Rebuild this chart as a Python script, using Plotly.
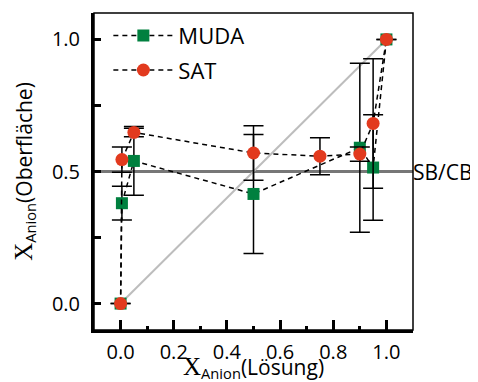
import plotly.graph_objects as go

# --- data ---
x_muda = [0.0, 0.005, 0.05, 0.5, 0.9, 0.95, 1.0]
y_muda = [0.0, 0.38, 0.54, 0.415, 0.59, 0.515, 1.0]
err_muda = [0.0, 0.064, 0.13, 0.225, 0.32, 0.2, 0.0]

x_sat = [0.0, 0.005, 0.05, 0.5, 0.75, 0.9, 0.95, 1.0]
y_sat = [0.0, 0.545, 0.648, 0.57, 0.558, 0.566, 0.682, 1.0]
err_sat = [0.0, 0.048, 0.016, 0.103, 0.07, 0.027, 0.245, 0.0]

diag_x = [0.0, 1.0]
diag_y = [0.0, 1.0]
sbcb_level = 0.5

x_ticks = [0.0, 0.2, 0.4, 0.6, 0.8, 1.0]
y_ticks = [0.0, 0.5, 1.0]

FONT = "Open Sans"
GREEN = "#00803F"
RED = "#E23A1E"

fig = go.Figure()

fig.add_trace(go.Scatter(x=diag_x, y=diag_y, mode="lines",
                         line=dict(color="#BDBDBD", width=2),
                         showlegend=False, hoverinfo="skip"))

fig.add_shape(type="line", xref="x", yref="y", x0=-0.1, x1=1.1,
              y0=sbcb_level, y1=sbcb_level,
              line=dict(color="#777777", width=3), layer="below")

fig.add_trace(go.Scatter(
    x=x_muda, y=y_muda, name="MUDA", mode="lines+markers", legendgroup="a",
    line=dict(color="black", width=1.5, dash="5px,4px"),
    marker=dict(symbol="square", size=12, color=GREEN),
    error_y=dict(type="data", array=err_muda, color="black",
                 thickness=1.5, width=10)))

fig.add_trace(go.Scatter(
    x=x_sat, y=y_sat, name="SAT", mode="lines+markers", legendgroup="b",
    line=dict(color="black", width=1.5, dash="5px,4px"),
    marker=dict(symbol="circle", size=13, color=RED),
    error_y=dict(type="data", array=err_sat, color="black",
                 thickness=1.5, width=10)))

fig.add_annotation(x=1.0, xref="paper", y=sbcb_level, yref="y",
                   text="SB/CB", showarrow=False, xanchor="left",
                   xshift=-1, borderpad=0,
                   font=dict(family=FONT, size=21, color="black"))

# x-axis title
fig.add_annotation(x=0.5, xref="paper", y=0, yref="paper",
                   text="<span style='font-family:Liberation Serif;font-size:25px'>X</span><sub>Anion</sub>(Lösung)",
                   showarrow=False, xanchor="center", yanchor="top",
                   yshift=-22, borderpad=0,
                   font=dict(family=FONT, size=21, color="black"))

# thin frame (top/right)
fig.add_shape(type="rect", xref="paper", yref="paper", x0=0, x1=1, y0=0, y1=1,
              line=dict(color="black", width=1.5), layer="above")

# page body has an 8px margin: shrink figure and margins to compensate
fig.update_layout(
    width=470, height=374,
    margin=dict(l=86, r=65, t=5, b=52),
    paper_bgcolor="white", plot_bgcolor="white",
    font=dict(family=FONT, size=20, color="black"),
    showlegend=True,
    legend=dict(x=0.045, y=0.995, xanchor="left", yanchor="top",
                bgcolor="rgba(0,0,0,0)", font=dict(size=22, family=FONT),
                itemwidth=60, tracegroupgap=3),
)

fig.update_xaxes(
    range=[-0.1, 1.1], showgrid=False, zeroline=False, automargin=False,
    showline=True, linecolor="black", linewidth=3,
    tickvals=x_ticks, ticktext=[f"{v:.1f}" for v in x_ticks],
    ticks="inside", ticklen=10, tickwidth=3, tickcolor="black",
    minor=dict(dtick=0.1, tick0=0.1, ticks="inside", ticklen=4, tickwidth=3, tickcolor="black"),
    tickfont=dict(size=20), ticklabelstandoff=2,
)
fig.update_yaxes(
    range=[-0.1, 1.1], showgrid=False, zeroline=False, automargin=False,
    showline=True, linecolor="black", linewidth=3,
    tickvals=y_ticks, ticktext=[f"{v:.1f}" for v in y_ticks],
    ticks="inside", ticklen=7, tickwidth=3, tickcolor="black",
    minor=dict(dtick=0.25, tick0=0.25, ticks="inside", ticklen=7, tickwidth=3, tickcolor="black"),
    tickfont=dict(size=20), ticklabelstandoff=7,
    title=dict(text="<span style='font-family:Liberation Serif;font-size:25px'>X</span><sub>Anion</sub>(Oberfläche)",
               font=dict(size=21), standoff=14),
)

fig.write_html("out.html")
